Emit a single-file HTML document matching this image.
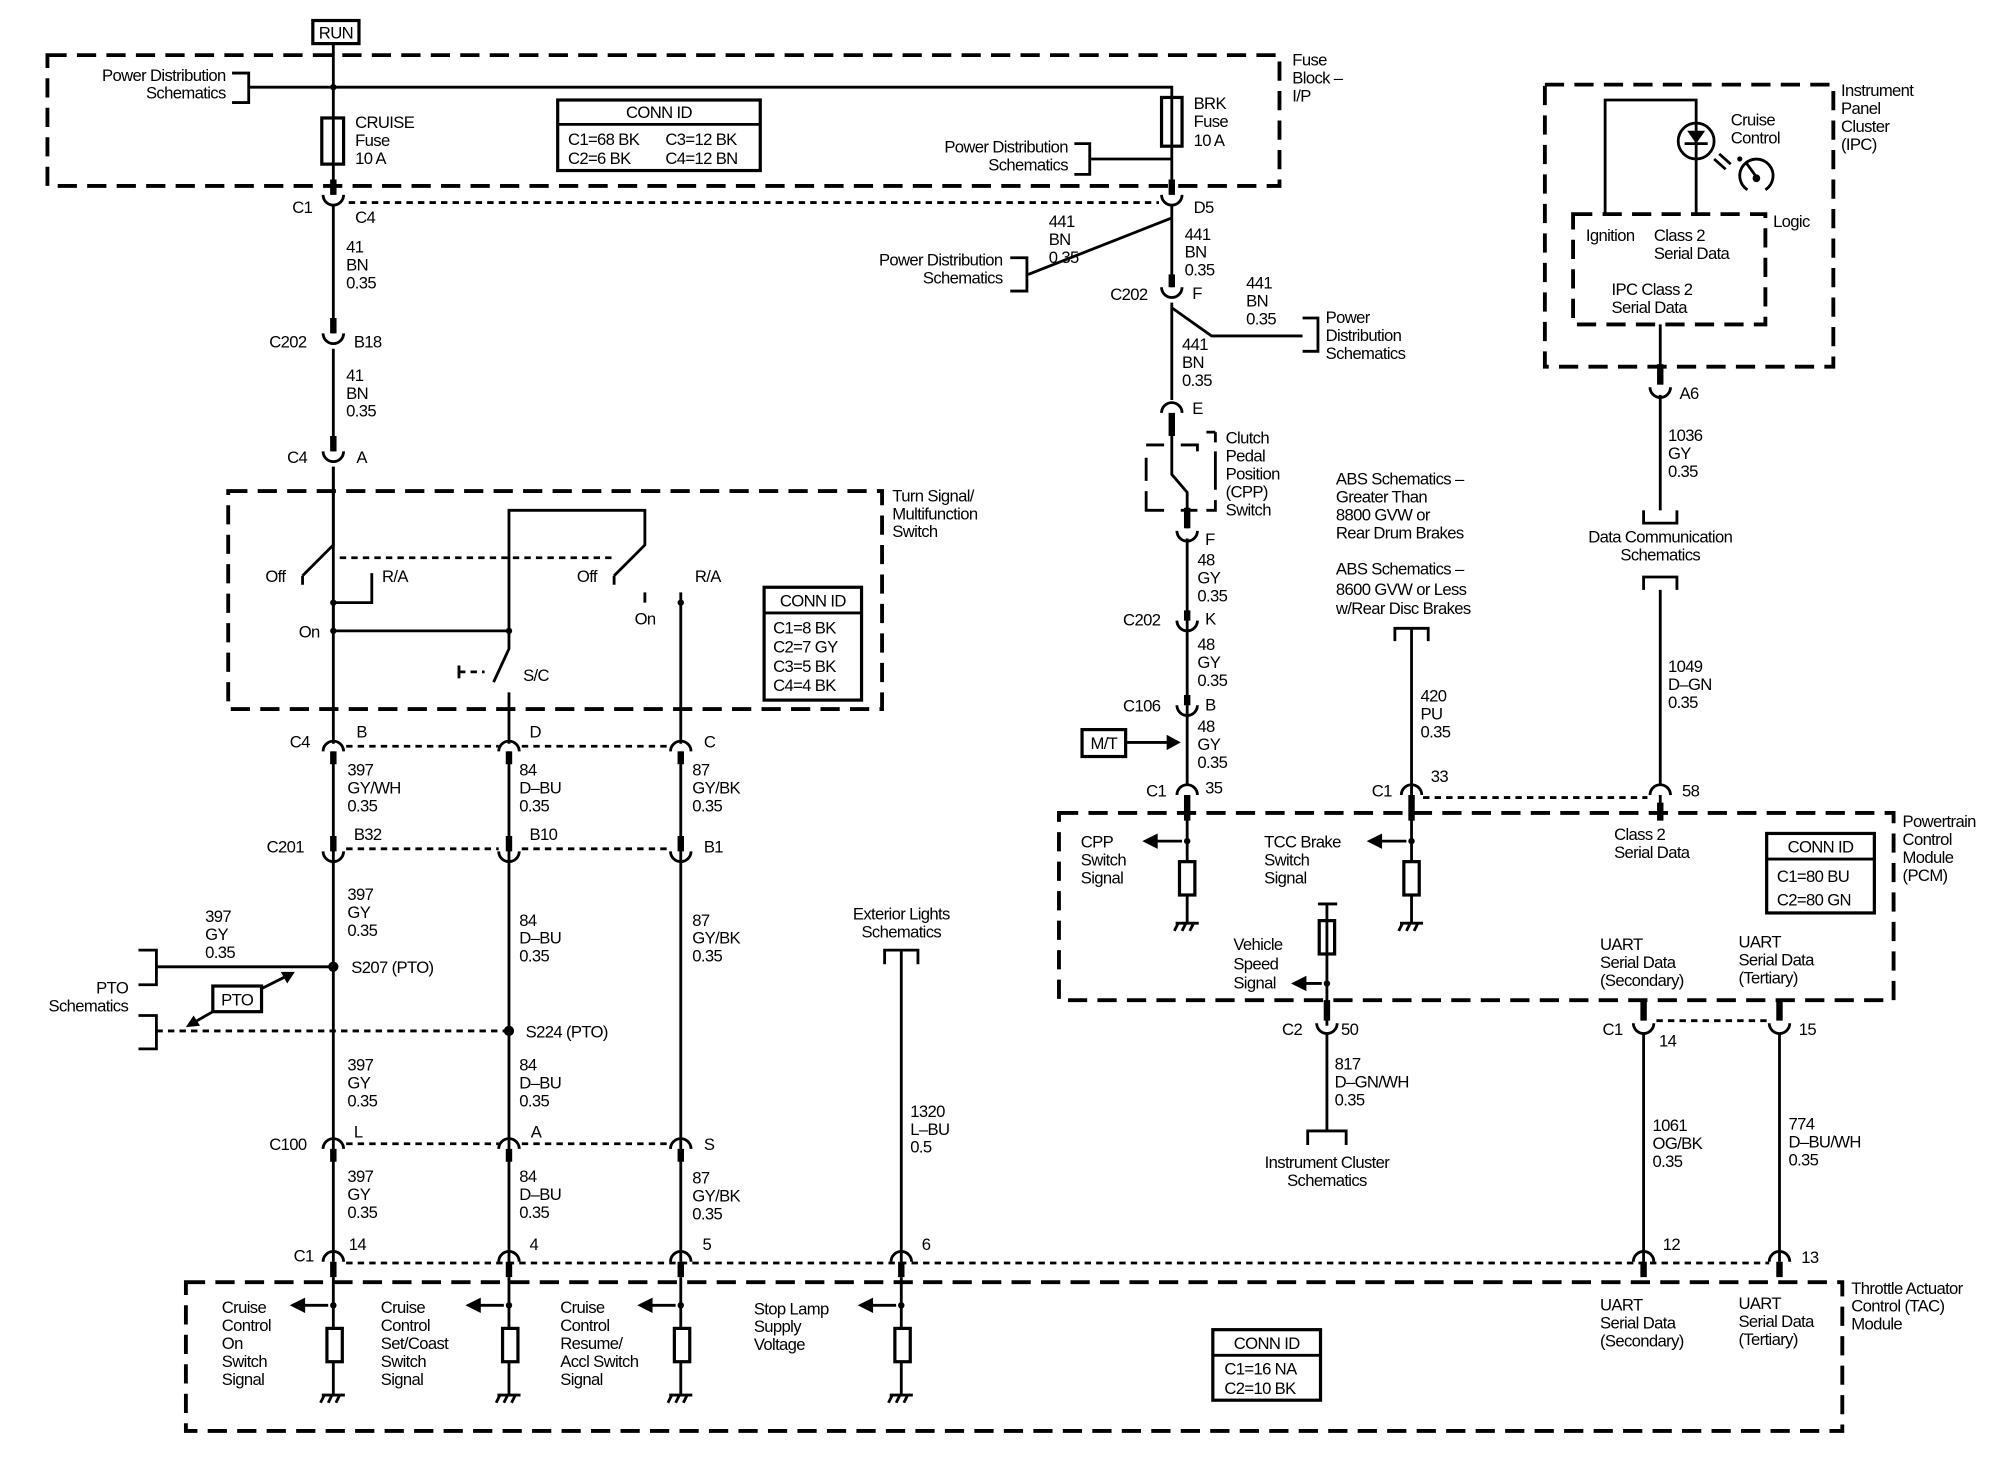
<!DOCTYPE html>
<html><head><meta charset="utf-8"><style>
html,body{margin:0;padding:0;background:#fff}
svg{display:block}
text{font-family:"Liberation Sans",sans-serif;font-size:13px;letter-spacing:-0.5px;fill:#000;white-space:pre}
.w{stroke:#000;stroke-width:2.2;fill:none}
.t{stroke:#000;stroke-width:5;fill:none}
.d{stroke:#000;stroke-width:3;fill:none;stroke-dasharray:15 8}
.s{stroke:#000;stroke-width:2.2;fill:none;stroke-dasharray:5 4}
.b{stroke:#000;stroke-width:2.5;fill:#fff}
.m{text-anchor:middle}.e{text-anchor:end}
</style></head><body>
<svg width="2000" height="1472" viewBox="0 0 1560 1148" preserveAspectRatio="none" xmlns="http://www.w3.org/2000/svg">
<!-- RUN -->
<rect x="244" y="16" width="36" height="18" class="b"/><text x="262" y="30" class="m">RUN</text>
<!-- Fuse block -->
<rect x="37" y="43" width="961" height="102" class="d"/>
<text x="1008" y="51">Fuse</text><text x="1008" y="65">Block –</text><text x="1008" y="79">I/P</text>
<path d="M260 34V150 M195 68H914V150" class="w"/>
<circle cx="260" cy="68" r="2.5"/>
<path d="M181 57H194V80H181" class="w"/>
<text x="176" y="63" class="e">Power Distribution</text><text x="176" y="77" class="e">Schematics</text>
<rect x="251" y="92" width="17" height="36" class="b"/><path d="M260 92V128" class="w"/>
<text x="277" y="100">CRUISE</text><text x="277" y="114">Fuse</text><text x="277" y="128">10 A</text>
<rect x="435" y="78" width="158" height="55" class="b"/><path d="M435 97H593" class="w"/>
<text x="514" y="92" class="m">CONN ID</text><text x="443" y="113">C1=68 BK</text><text x="519" y="113">C3=12 BK</text><text x="443" y="128">C2=6 BK</text><text x="519" y="128">C4=12 BN</text>
<rect x="906" y="76" width="16" height="38" class="b"/><path d="M914 76V114" class="w"/>
<text x="931" y="85">BRK</text><text x="931" y="99">Fuse</text><text x="931" y="114">10 A</text>
<path d="M838 112H850V136H838 M850 124H914" class="w"/>
<text x="833" y="119" class="e">Power Distribution</text><text x="833" y="133" class="e">Schematics</text>
<!-- left column -->
<path d="M260 140V152 M914 140V152" class="t"/>
<path d="M252 152A8 8 0 0 0 268 152 M906 152A8 8 0 0 0 922 152" class="w"/>
<path d="M272 158H904" class="s"/>
<text x="228" y="166">C1</text><text x="277" y="174">C4</text><text x="931" y="166">D5</text>
<path d="M260 160V260 M260 272V352 M260 364V580" class="w"/>
<text x="270" y="197">41</text><text x="270" y="211">BN</text><text x="270" y="225">0.35</text>
<path d="M260 248V260 M260 340V352" class="t"/>
<path d="M252 260A8 8 0 0 0 268 260 M252 352A8 8 0 0 0 268 352" class="w"/>
<text x="210" y="271">C202</text><text x="276" y="271">B18</text>
<text x="270" y="297">41</text><text x="270" y="311">BN</text><text x="270" y="325">0.35</text>
<text x="224" y="361">C4</text><text x="278" y="361">A</text>
<!-- turn signal switch -->
<rect x="178" y="383" width="510" height="170" class="d"/>
<text x="696" y="391">Turn Signal/</text><text x="696" y="405">Multifunction</text><text x="696" y="419">Switch</text>
<path d="M260 364V425 L236 449 M290 447V470H260 M260 470V492 M260 492H397 M397 492V398H503V425L479 449 M503 462V470 M531 462V580 M397 492V506L385 532 M397 540V580" class="w"/>
<path d="M236 449V456 M479 449V456" class="w"/>
<path d="M265 435H480" class="s"/>
<path d="M358 524H378" class="s"/><path d="M358 519V529" class="w"/>
<circle cx="260" cy="470" r="2.5"/><circle cx="260" cy="492" r="2.5"/><circle cx="397" cy="492" r="2.5"/><circle cx="531" cy="470" r="2.5"/>
<text x="207" y="454">Off</text><text x="298" y="454">R/A</text><text x="450" y="454">Off</text><text x="542" y="454">R/A</text>
<text x="233" y="497">On</text><text x="495" y="487">On</text><text x="408" y="531">S/C</text>
<rect x="596" y="458" width="76" height="88" class="b"/><path d="M596 478H672" class="w"/>
<text x="634" y="473" class="m">CONN ID</text><text x="603" y="494">C1=8 BK</text><text x="603" y="509">C2=7 GY</text><text x="603" y="524">C3=5 BK</text><text x="603" y="539">C4=4 BK</text>
<!-- bottom connector rows -->
<g class="w">
<path d="M252 586A8 8 0 0 1 268 586 M389 586A8 8 0 0 1 405 586 M523 586A8 8 0 0 1 539 586"/>
<path d="M252 664A8 8 0 0 0 268 664 M389 664A8 8 0 0 0 405 664 M523 664A8 8 0 0 0 539 664"/>
<path d="M252 896A8 8 0 0 1 268 896 M389 896A8 8 0 0 1 405 896 M523 896A8 8 0 0 1 539 896"/>
<path d="M252 984A8 8 0 0 1 268 984 M389 984A8 8 0 0 1 405 984 M523 984A8 8 0 0 1 539 984 M695 984A8 8 0 0 1 711 984 M1274 984A8 8 0 0 1 1290 984 M1380 984A8 8 0 0 1 1396 984"/>
</g>
<path d="M260 586V664 M397 586V664 M531 586V664 M260 664V896 M397 664V896 M531 664V896 M260 896V984 M397 896V984 M531 896V984" class="w"/>
<path d="M260 586V596 M397 586V596 M531 586V596 M260 652V664 M397 652V664 M531 652V664 M260 896V906 M397 896V906 M531 896V906 M260 984V996 M397 984V996 M531 984V996 M703 984V996 M1282 984V996 M1388 984V996" class="t"/>
<path d="M270 582H389 M407 582H523 M270 662H389 M407 662H523 M270 892H389 M407 892H523 M270 985H1380" class="s"/>
<text x="226" y="583">C4</text><text x="278" y="575">B</text><text x="413" y="575">D</text><text x="549" y="583">C</text>
<text x="271" y="605">397</text><text x="271" y="619">GY/WH</text><text x="271" y="633">0.35</text>
<text x="405" y="605">84</text><text x="405" y="619">D–BU</text><text x="405" y="633">0.35</text>
<text x="540" y="605">87</text><text x="540" y="619">GY/BK</text><text x="540" y="633">0.35</text>
<text x="208" y="665">C201</text><text x="276" y="655">B32</text><text x="413" y="655">B10</text><text x="549" y="665">B1</text>
<text x="271" y="702">397</text><text x="271" y="716">GY</text><text x="271" y="730">0.35</text>
<text x="405" y="722">84</text><text x="405" y="736">D–BU</text><text x="405" y="750">0.35</text>
<text x="540" y="722">87</text><text x="540" y="736">GY/BK</text><text x="540" y="750">0.35</text>
<!-- PTO -->
<path d="M122 754H260 M108 741H122V768H108 M108 792H122V818H108" class="w"/>
<path d="M122 804H397" class="s"/>
<circle cx="260" cy="754" r="4"/><circle cx="397" cy="804" r="4"/>
<text x="274" y="759">S207 (PTO)</text><text x="410" y="809">S224 (PTO)</text>
<text x="160" y="719">397</text><text x="160" y="733">GY</text><text x="160" y="747">0.35</text>
<text x="100" y="775" class="e">PTO</text><text x="100" y="789" class="e">Schematics</text>
<rect x="166" y="769" width="38" height="20" class="b"/><text x="185" y="784" class="m">PTO</text>
<path d="M166 789L152 797 M204 771L222 762" class="w"/>
<polygon points="145,801 151,792 156,800" /><polygon points="230,758 219,758 224,767"/>
<text x="271" y="835">397</text><text x="271" y="849">GY</text><text x="271" y="863">0.35</text>
<text x="405" y="835">84</text><text x="405" y="849">D–BU</text><text x="405" y="863">0.35</text>
<text x="210" y="897">C100</text><text x="276" y="887">L</text><text x="414" y="887">A</text><text x="549" y="897">S</text>
<text x="271" y="922">397</text><text x="271" y="936">GY</text><text x="271" y="950">0.35</text>
<text x="405" y="922">84</text><text x="405" y="936">D–BU</text><text x="405" y="950">0.35</text>
<text x="540" y="923">87</text><text x="540" y="937">GY/BK</text><text x="540" y="951">0.35</text>
<text x="229" y="984">C1</text><text x="272" y="975">14</text><text x="413" y="975">4</text><text x="548" y="975">5</text><text x="719" y="975">6</text><text x="1297" y="975">12</text><text x="1405" y="985">13</text>
<!-- exterior lights -->
<text x="703" y="717" class="m">Exterior Lights</text><text x="703" y="731" class="m">Schematics</text>
<path d="M690 752V741H716V752 M703 741V984" class="w"/>
<text x="710" y="871">1320</text><text x="710" y="885">L–BU</text><text x="710" y="899">0.5</text>
<!-- TAC -->
<rect x="145" y="1000" width="1292" height="116" class="d"/>
<text x="1444" y="1009">Throttle Actuator</text><text x="1444" y="1023">Control (TAC)</text><text x="1444" y="1037">Module</text>
<g class="w">
<path d="M260 996V1088 M397 996V1088 M531 996V1088 M703 996V1088"/>
<path d="M256 1018H236 M393 1018H373 M527 1018H507 M699 1018H679"/>
<path d="M251 1088H269 M388 1088H406 M522 1088H540 M694 1088H712"/>
<path d="M253 1088L250 1094 M259 1088L256 1094 M265 1088L262 1094 M390 1088L387 1094 M396 1088L393 1094 M402 1088L399 1094 M524 1088L521 1094 M530 1088L527 1094 M536 1088L533 1094 M696 1088L693 1094 M702 1088L699 1094 M708 1088L705 1094"/>
</g>
<polygon points="226,1018 238,1012 238,1024"/><polygon points="363,1018 375,1012 375,1024"/><polygon points="497,1018 509,1012 509,1024"/><polygon points="669,1018 681,1012 681,1024"/>
<rect x="255" y="1036" width="12" height="26" class="b"/><rect x="392" y="1036" width="12" height="26" class="b"/><rect x="526" y="1036" width="12" height="26" class="b"/><rect x="698" y="1036" width="12" height="26" class="b"/>
<circle cx="260" cy="1018" r="2.5"/><circle cx="397" cy="1018" r="2.5"/><circle cx="531" cy="1018" r="2.5"/><circle cx="703" cy="1018" r="2.5"/>
<text x="173" y="1024">Cruise</text><text x="173" y="1038">Control</text><text x="173" y="1052">On</text><text x="173" y="1066">Switch</text><text x="173" y="1080">Signal</text>
<text x="297" y="1024">Cruise</text><text x="297" y="1038">Control</text><text x="297" y="1052">Set/Coast</text><text x="297" y="1066">Switch</text><text x="297" y="1080">Signal</text>
<text x="437" y="1024">Cruise</text><text x="437" y="1038">Control</text><text x="437" y="1052">Resume/</text><text x="437" y="1066">Accl Switch</text><text x="437" y="1080">Signal</text>
<text x="588" y="1025">Stop Lamp</text><text x="588" y="1039">Supply</text><text x="588" y="1053">Voltage</text>
<rect x="946" y="1037" width="84" height="55" class="b"/><path d="M946 1057H1030" class="w"/>
<text x="988" y="1052" class="m">CONN ID</text><text x="955" y="1072">C1=16 NA</text><text x="955" y="1087">C2=10 BK</text>
<text x="1248" y="1022">UART</text><text x="1248" y="1036">Serial Data</text><text x="1248" y="1050">(Secondary)</text>
<text x="1356" y="1021">UART</text><text x="1356" y="1035">Serial Data</text><text x="1356" y="1049">(Tertiary)</text>
<!-- right column 914 -->
<path d="M914 160V224 M914 236V312 M914 170L802 214 M914 240L945 262H1016" class="w"/>
<path d="M788 201H801V227H788" class="w"/>
<text x="782" y="207" class="e">Power Distribution</text><text x="782" y="221" class="e">Schematics</text>
<text x="818" y="177">441</text><text x="818" y="191">BN</text><text x="818" y="205">0.35</text>
<text x="924" y="187">441</text><text x="924" y="201">BN</text><text x="924" y="215">0.35</text>
<path d="M914 214V224" class="t"/><path d="M906 224A8 8 0 0 0 922 224" class="w"/>
<text x="866" y="234">C202</text><text x="930" y="233">F</text>
<text x="972" y="225">441</text><text x="972" y="239">BN</text><text x="972" y="253">0.35</text>
<path d="M1016 248H1028V274H1016" class="w"/>
<text x="1034" y="252">Power</text><text x="1034" y="266">Distribution</text><text x="1034" y="280">Schematics</text>
<text x="922" y="273">441</text><text x="922" y="287">BN</text><text x="922" y="301">0.35</text>
<path d="M906 322A8 8 0 0 1 922 322" class="w"/><path d="M914 322V340" class="t"/>
<text x="930" y="323">E</text>
<path d="M894 347H908 M921 347H934V352 M948 337V345 M941 337H948 M894 357V375 M894 383V398H908 M921 398H934 M941 398H948V390 M948 352V382" class="w" stroke-width="2.5"/>
<path d="M914 338V370L926 384V412" class="w" stroke-width="3"/>
<path d="M926 396V412" class="t"/>
<path d="M918 414A8 8 0 0 0 934 414" class="w"/>
<text x="940" y="425">F</text>
<text x="956" y="346">Clutch</text><text x="956" y="360">Pedal</text><text x="956" y="374">Position</text><text x="956" y="388">(CPP)</text><text x="956" y="402">Switch</text>
<path d="M926 420V612" class="w"/>
<text x="934" y="441">48</text><text x="934" y="455">GY</text><text x="934" y="469">0.35</text>
<path d="M926 476V484 M926 542V550" class="t"/>
<path d="M918 484A8 8 0 0 0 934 484 M918 550A8 8 0 0 0 934 550" class="w"/>
<text x="876" y="488">C202</text><text x="940" y="487">K</text>
<text x="934" y="507">48</text><text x="934" y="521">GY</text><text x="934" y="535">0.35</text>
<text x="876" y="555">C106</text><text x="940" y="554">B</text>
<text x="934" y="571">48</text><text x="934" y="585">GY</text><text x="934" y="599">0.35</text>
<rect x="844" y="569" width="34" height="21" class="b"/><text x="861" y="584" class="m">M/T</text>
<path d="M878 579H912" class="w"/><polygon points="921,579 910,573 910,585"/>
<path d="M918 620A8 8 0 0 1 934 620 M1093 620A8 8 0 0 1 1109 620 M1287 620A8 8 0 0 1 1303 620" class="w"/>
<path d="M1110 622H1285" class="s"/>
<text x="894" y="621">C1</text><text x="940" y="619">35</text><text x="1070" y="621">C1</text><text x="1116" y="610">33</text><text x="1312" y="621">58</text>
<!-- PCM -->
<rect x="826" y="634" width="651" height="146" class="d"/>
<text x="1484" y="645">Powertrain</text><text x="1484" y="659">Control</text><text x="1484" y="673">Module</text><text x="1484" y="687">(PCM)</text>
<path d="M926 620V720 M1101 620V720 M1295 620V634" class="w"/>
<path d="M926 620V640 M1101 620V640 M1295 626V640" class="t"/>
<path d="M922 656H900 M1097 656H1075 M1031 767H1015" class="w"/>
<polygon points="891,656 903,650 903,662"/><polygon points="1066,656 1078,650 1078,662"/><polygon points="1007,767 1019,761 1019,773"/>
<circle cx="926" cy="656" r="2.5"/><circle cx="1101" cy="656" r="2.5"/><circle cx="1035" cy="767" r="2.5"/>
<rect x="920" y="672" width="12" height="26" class="b"/><rect x="1095" y="672" width="12" height="26" class="b"/><rect x="1029" y="718" width="12" height="26" class="b"/>
<path d="M917 720H935 M1092 720H1110 M919 720L916 726 M925 720L922 726 M931 720L928 726 M1094 720L1091 726 M1100 720L1097 726 M1106 720L1103 726 M1028 705H1043 M1035 705V800" class="w"/>
<text x="843" y="661">CPP</text><text x="843" y="675">Switch</text><text x="843" y="689">Signal</text>
<text x="986" y="661">TCC Brake</text><text x="986" y="675">Switch</text><text x="986" y="689">Signal</text>
<text x="962" y="741">Vehicle</text><text x="962" y="756">Speed</text><text x="962" y="771">Signal</text>
<text x="1259" y="655">Class 2</text><text x="1259" y="669">Serial Data</text>
<rect x="1378" y="650" width="84" height="62" class="b"/><path d="M1378 670H1462" class="w"/>
<text x="1420" y="665" class="m">CONN ID</text><text x="1386" y="688">C1=80 BU</text><text x="1386" y="706">C2=80 GN</text>
<text x="1248" y="741">UART</text><text x="1248" y="755">Serial Data</text><text x="1248" y="769">(Secondary)</text>
<text x="1356" y="739">UART</text><text x="1356" y="753">Serial Data</text><text x="1356" y="767">(Tertiary)</text>
<path d="M1035 780V796 M1282 780V796 M1388 780V796" class="t"/>
<path d="M1027 798A8 8 0 0 0 1043 798 M1274 798A8 8 0 0 0 1290 798 M1380 798A8 8 0 0 0 1396 798" class="w"/>
<path d="M1292 796H1380" class="s"/>
<text x="1000" y="807">C2</text><text x="1046" y="807">50</text><text x="1250" y="807">C1</text><text x="1294" y="816">14</text><text x="1403" y="807">15</text>
<path d="M1035 806V882 M1020 893V882H1050V893 M1282 806V984 M1388 806V984" class="w"/>
<text x="1041" y="834">817</text><text x="1041" y="848">D–GN/WH</text><text x="1041" y="862">0.35</text>
<text x="1035" y="911" class="m">Instrument Cluster</text><text x="1035" y="925" class="m">Schematics</text>
<text x="1289" y="882">1061</text><text x="1289" y="896">OG/BK</text><text x="1289" y="910">0.35</text>
<text x="1395" y="881">774</text><text x="1395" y="895">D–BU/WH</text><text x="1395" y="909">0.35</text>
<!-- ABS -->
<text x="1042" y="378">ABS Schematics –</text><text x="1042" y="392">Greater Than</text><text x="1042" y="406">8800 GVW or</text><text x="1042" y="420">Rear Drum Brakes</text>
<text x="1042" y="448">ABS Schematics –</text><text x="1042" y="464">8600 GVW or Less</text><text x="1042" y="479">w/Rear Disc Brakes</text>
<path d="M1088 500V490H1114V500 M1101 490V620" class="w"/>
<text x="1108" y="547">420</text><text x="1108" y="561">PU</text><text x="1108" y="575">0.35</text>
<!-- IPC -->
<rect x="1205" y="66" width="225" height="220" class="d"/>
<text x="1436" y="75">Instrument</text><text x="1436" y="89">Panel</text><text x="1436" y="103">Cluster</text><text x="1436" y="117">(IPC)</text>
<rect x="1227" y="167" width="150" height="86" class="d" stroke-width="2.5"/>
<text x="1383" y="177">Logic</text>
<text x="1237" y="188">Ignition</text><text x="1290" y="188">Class 2</text><text x="1290" y="202">Serial Data</text>
<text x="1257" y="230">IPC Class 2</text><text x="1257" y="244">Serial Data</text>
<path d="M1252 167V78H1323V167 M1314 112H1332" class="w" stroke-width="2.5"/>
<circle cx="1323" cy="110" r="14" class="w" stroke-width="2.5"/>
<path d="M1316 102H1330L1323 112z" fill="#000"/>
<path d="M1337 124L1346 132 M1341 120L1350 128" class="w" stroke-width="1.3"/>
<text x="1350" y="98">Cruise</text><text x="1350" y="112">Control</text>
<path d="M1363 148A13 13 0 1 1 1377 148" class="w" stroke-width="2.5"/>
<path d="M1370 138L1362 127" class="w" stroke-width="2"/><circle cx="1370" cy="139" r="3"/><circle cx="1357" cy="124" r="2"/>
<path d="M1295 253V290" class="w"/><path d="M1295 284V300" class="t"/>
<path d="M1287 302A8 8 0 0 0 1303 302" class="w"/>
<text x="1310" y="311">A6</text>
<path d="M1295 308V398 M1282 398V408H1308V398 M1282 460V450H1308V460 M1295 460V612" class="w"/>
<text x="1301" y="344">1036</text><text x="1301" y="358">GY</text><text x="1301" y="372">0.35</text>
<text x="1295" y="423" class="m">Data Communication</text><text x="1295" y="437" class="m">Schematics</text>
<text x="1301" y="524">1049</text><text x="1301" y="538">D–GN</text><text x="1301" y="552">0.35</text>
</svg>
</body></html>
